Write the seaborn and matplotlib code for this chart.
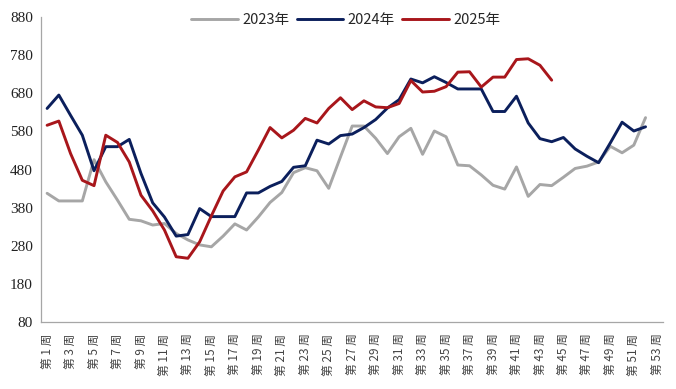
import seaborn as sns
import matplotlib.pyplot as plt
import pandas as pd
import numpy as np

# weekly values
weeks = list(range(1, 54))
week_labels = ['第 {} 周'.format(w) for w in weeks]

y2023 = [418, 398, 398, 398, 506, 448, 400, 350, 346, 335,
         339, 313, 296, 283, 278, 306, 338, 322, 356, 394,
         420, 472, 485, 477, 431, 513, 594, 594, 562, 522,
         566, 588, 520, 581, 566, 492, 490, 466, 439, 429,
         487, 410, 441, 438, 460, 483, 489, 500, 541, 524,
         544, 616]
y2024 = [640, 675, 622, 570, 477, 540, 540, 559, 470, 393,
         356, 306, 310, 378, 357, 357, 357, 419, 419, 436,
         449, 486, 490, 557, 547, 569, 573, 590, 611, 641,
         663, 717, 707, 723, 708, 691, 691, 691, 632, 632,
         672, 602, 561, 553, 564, 534, 515, 498, 550, 604,
         581, 592]
y2025 = [596, 607, 522, 452, 438, 570, 551, 500, 413, 372,
         322, 252, 248, 291, 359, 424, 461, 474, 531, 590,
         563, 583, 614, 602, 640, 668, 637, 660, 644, 642,
         653, 713, 683, 685, 697, 735, 736, 696, 722, 722,
         768, 770, 753, 714]

series = {'2023年': y2023, '2024年': y2024, '2025年': y2025}
colors = {'2023年': '#A6A6A6', '2024年': '#0B1F5C', '2025年': '#A8161B'}

rows = []
for name, vals in series.items():
    for w, v in zip(weeks, vals):
        rows.append({'week': w, 'value': v, 'year': name})
df = pd.DataFrame(rows)

sns.set_style('white')
plt.rcParams['font.family'] = ['Noto Sans CJK SC', 'DejaVu Sans']

fig = plt.figure(figsize=(6.76, 3.89), dpi=100)
ax = fig.add_axes([0.061, 0.171, 0.92, 0.786])

sns.lineplot(data=df, x='week', y='value', hue='year', palette=colors,
             linewidth=2.1, ax=ax, legend=True)

ax.set_xlim(0.5, 53.5)
ax.set_ylim(80, 880)
ax.set_yticks(np.arange(80, 881, 100))
ax.set_yticklabels([str(v) for v in range(80, 881, 100)],
                   family=['Liberation Serif'], fontsize=11)

# category boundaries get the tick marks, odd weeks get the labels
ax.set_xticks(np.arange(0.5, 54, 1))
ax.set_xticklabels([])
ax.set_xticks(weeks[::2], minor=True)
ax.set_xticklabels(week_labels[::2], minor=True, rotation=90,
                   fontsize=8.5, color='#444444')
ax.tick_params(axis='x', which='major', direction='in', length=5,
               color='#A6A6A6', width=0.8)
ax.tick_params(axis='x', which='minor', length=0, pad=8)
ax.tick_params(axis='y', direction='in', length=3, color='#A6A6A6',
               pad=6, labelcolor='#222222')

for s in ['top', 'right']:
    ax.spines[s].set_visible(False)
for s in ['left', 'bottom']:
    ax.spines[s].set_color('#A6A6A6')
    ax.spines[s].set_linewidth(0.9)

ax.set_xlabel('')
ax.set_ylabel('')

leg = ax.legend(loc='upper center', bbox_to_anchor=(0.49, 1.055), ncol=3,
                frameon=False, handlelength=3.2, handletextpad=0.3,
                columnspacing=0.5,
                prop={'family': ['Liberation Sans Narrow', 'Noto Sans CJK SC'],
                      'size': 10.5})
for line in leg.get_lines():
    line.set_linewidth(2.1)

plt.savefig('out.png', dpi=100)
